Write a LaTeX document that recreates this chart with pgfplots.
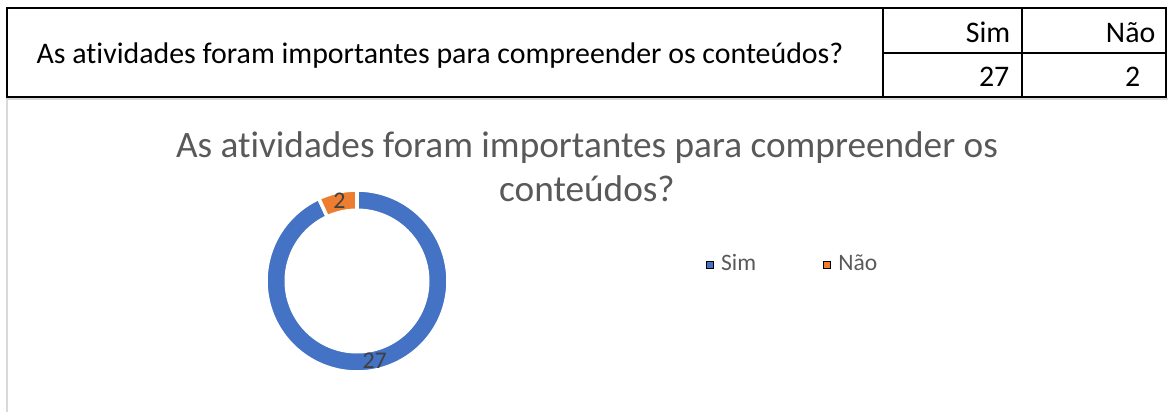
\documentclass[border=0pt]{standalone}
\usepackage{pgfplots}
\pgfplotsset{compat=1.18}
\usepackage{fontspec}
\setmainfont{Carlito}[Ligatures=NoCommon]
\definecolor{cblue}{HTML}{4472C4}
\definecolor{corange}{HTML}{ED7D31}
\definecolor{ctitle}{HTML}{595959}
\definecolor{clabel}{HTML}{404040}
\definecolor{cframe}{HTML}{D9D9D9}
% data
\def\vSim{27}
\def\vNao{2}
\pgfmathsetmacro\tot{\vSim+\vNao}
\pgfmathsetmacro\aSim{90-360*\vSim/\tot}
\pgfmathsetmacro\mSim{90-180*\vSim/\tot}
\pgfmathsetmacro\mNao{\aSim+360-180*\vNao/\tot}
\pgfmathsetmacro\aNaoStart{\aSim+360}
\def\cx{357}\def\cy{281}\def\ro{91}\def\ri{72.5}\def\rl{82}
\begin{document}
\begin{tikzpicture}
\begin{axis}[
  scale only axis, width=11.68cm, height=4.12cm,
  xmin=0, xmax=1168, ymin=0, ymax=412, y dir=reverse,
  hide axis, clip=false,
  legend columns=2,
  legend style={draw=none, fill=none, at={(axis cs:705,265)}, anchor=west,
    font=\fontsize{6.7pt}{8pt}\selectfont\color{ctitle},
    /tikz/every even column/.append style={column sep=17pt},
    inner sep=0pt},
  legend image code/.code={\fill[#1] (0pt,-1pt) rectangle (2pt,1pt);},
]
\coordinate (BL) at (0,412);
\coordinate (TR) at (1168,0);
% donut sectors
\addplot[forget plot, fill=cblue, draw=white, line width=1pt, domain=90:\aSim, samples=200, variable=\t]
  ({\cx+\ro*cos(\t)},{\cy-\ro*sin(\t)}) -- (\cx,\cy) -- cycle;
\addplot[forget plot, fill=corange, draw=white, line width=1pt, domain=\aNaoStart:90, samples=40, variable=\t]
  ({\cx+\ro*cos(\t)},{\cy-\ro*sin(\t)}) -- (\cx,\cy) -- cycle;
\addplot[forget plot, fill=white, draw=none, domain=0:360, samples=200, variable=\t]
  ({\cx+\ri*cos(\t)},{\cy-\ri*sin(\t)}) -- cycle;
% legend
\addlegendimage{fill=cblue}
\addlegendentry{Sim}
\addlegendimage{fill=corange}
\addlegendentry{Não}
% data labels
\node[text=clabel, font=\fontsize{6.8pt}{8pt}\selectfont] at ({\cx+\rl*cos(\mSim)},{\cy-\rl*sin(\mSim)}) {\vSim};
\node[text=clabel, font=\fontsize{6.8pt}{8pt}\selectfont] at ({\cx+\rl*cos(\mNao)},{\cy-\rl*sin(\mNao)}) {\vNao};
% chart title
\node[text=ctitle, font=\fontsize{10.6pt}{12pt}\selectfont, anchor=base] at (587,157) {As atividades foram importantes para compreender os};
\node[text=ctitle, font=\fontsize{10.6pt}{12pt}\selectfont, anchor=base] at (587,201) {conteúdos?};
% chart area frame
\draw[cframe, line width=0.45pt] (7,412) -- (7,99) -- (1168,99);
% table
\draw[black, line width=0.6pt] (7,8) rectangle (1166,97);
\draw[black, line width=0.6pt] (883,8) -- (883,97);
\draw[black, line width=0.6pt] (1022,8) -- (1022,97);
\draw[black, line width=0.6pt] (883,53) -- (1166,53);
\node[font=\fontsize{8.5pt}{9pt}\selectfont, anchor=base] at (440,63) {As atividades foram importantes para compreender os conteúdos?};
\begin{scope}[every node/.style={font=\fontsize{8.5pt}{9pt}\selectfont, anchor=base east, inner sep=0pt}]
\node at (1011,42) {Sim};
\node at (1156,42) {Não};
\node at (1010,86) {27};
\node at (1141,86) {2};
\end{scope}
\end{axis}
\pgfresetboundingbox
\path[use as bounding box] (BL) rectangle (TR);
\end{tikzpicture}
\end{document}
